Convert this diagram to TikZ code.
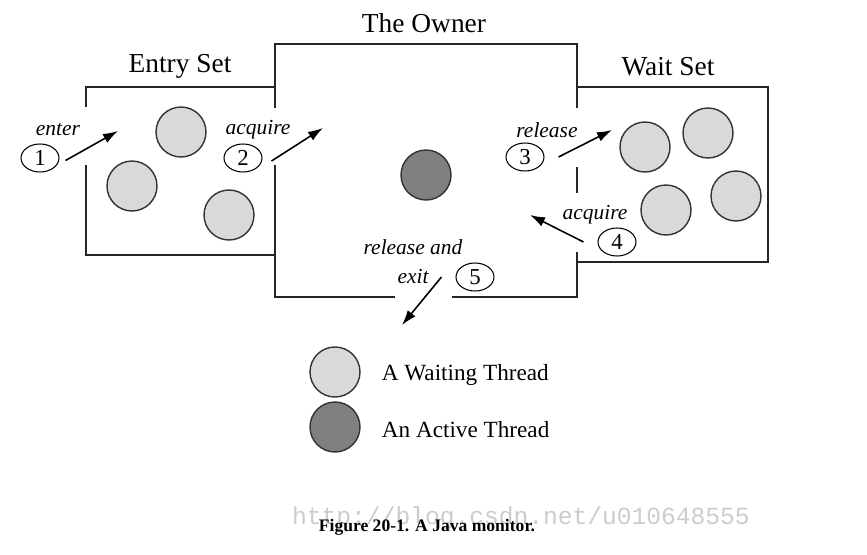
\documentclass[tikz,border=0pt]{standalone}
\usepackage{fontspec}
\setmainfont{Liberation Serif}
\setmonofont{Liberation Mono}
\usepackage{tikz}
\usetikzlibrary{positioning}
\usetikzlibrary{arrows.meta}
\usetikzlibrary{shapes.geometric}

\begin{document}
\begin{tikzpicture}[x=0.02cm,y=-0.02cm,
  wall/.style={line width=1.2pt,black!85},
  waiting/.style={circle,draw=black!80,line width=0.8pt,fill=black!15,minimum size=1cm,inner sep=0pt},
  active/.style={circle,draw=black!80,line width=0.8pt,fill=black!50,minimum size=1cm,inner sep=0pt},
  num/.style={ellipse,draw,line width=0.6pt,minimum width=0.76cm,minimum height=0.56cm,inner sep=0pt,font=\fontsize{13}{13}\selectfont},
  title/.style={font=\fontsize{15.6}{18}\selectfont},
  lbl/.style={font=\fontsize{12.2}{16.4}\selectfont\itshape},
  arr/.style={line width=0.9pt,-{Latex[length=0.3cm,width=0.2cm]}}]
\useasboundingbox (0,0) rectangle (867,555);

% entry set
\draw[wall] (86,107) -- (86,87) -- (275,87);
\draw[wall] (86,165) -- (86,255) -- (275,255);
% the owner
\draw[wall] (275,108) -- (275,44) -- (577,44) -- (577,108);
\draw[wall] (275,165) -- (275,297) -- (395,297);
\draw[wall] (452,297) -- (577,297) -- (577,252);
\draw[wall] (577,167) -- (577,193);
% wait set
\draw[wall] (577,87) -- (768,87) -- (768,262) -- (577,262);

\node[title] (entry) at (180,66) {Entry Set};
\node[title] (owner) at (424,23) {The Owner};
\node[title] (wait) at (668,67) {Wait Set};

% threads
\node[waiting] (e1) at (181,132) {};
\node[waiting] (e2) at (132,186) {};
\node[waiting] (e3) at (229,215) {};
\node[active] (o1) at (426,175) {};
\node[waiting] (w1) at (645,147) {};
\node[waiting] (w2) at (708,133) {};
\node[waiting] (w3) at (666,210) {};
\node[waiting] (w4) at (736,196) {};

% steps
\node[num] (n1) at (40,158) {1};
\node[lbl] (l1) at (58,130) {enter};
\node[num] (n2) at (243,158) {2};
\node[lbl] (l2) at (258,130) {acquire};
\node[num] (n3) at (525,157) {3};
\node[lbl] (l3) at (547,130) {release};
\node[num] (n4) at (617,242) {4};
\node[lbl] (l4) at (595,215) {acquire};
\node[num] (n5) at (475,277) {5};
\node[lbl,align=center] (l5) at (413,262) {release and\\exit};

\coordinate (t1) at (118,131);
\coordinate (t2) at (323,128);
\coordinate (t3) at (612,130);
\coordinate (t4) at (530,215);
\coordinate (t5) at (402,325);
\draw[arr] ([xshift=0.12cm,yshift=-0.05cm]n1.east) -- (t1);
\draw[arr] ([xshift=0.18cm,yshift=-0.06cm]n2.east) -- (t2);
\draw[arr] ([xshift=0.28cm]n3.east) -- (t3);
\draw[arr] ([xshift=-0.28cm]n4.west) -- (t4);
\draw[arr] ([xshift=-0.28cm]n5.west) -- (t5);

% legend
\node[waiting] (kw) at (335,372) {};
\node[right=0.3cm of kw,yshift=-0.06cm,font=\fontsize{13.2}{16}\selectfont] (kwt) {A Waiting Thread};
\node[active] (ka) at (335,427) {};
\node[right=0.3cm of ka,yshift=-0.06cm,font=\fontsize{13.2}{16}\selectfont] (kat) {An Active Thread};

\node[font=\fontsize{14}{16}\ttfamily,text=black!20] (mark) at (521,518) {http://blog.csdn.net/u010648555};
\node[font=\fontsize{10}{12}\selectfont\bfseries] (cap) at (427,527) {Figure 20-1. A Java monitor.};
\end{tikzpicture}
\end{document}
